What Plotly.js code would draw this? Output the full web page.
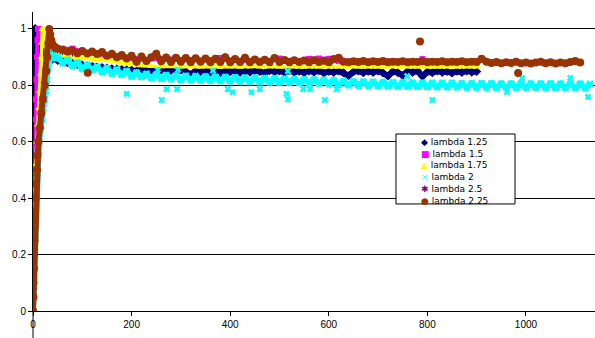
<!DOCTYPE html>
<html>
<head>
<meta charset="utf-8">
<script src="https://cdn.plot.ly/plotly-3.0.1.min.js"></script>
<style>html,body{margin:0;padding:0;background:#fff;}#chart{width:595px;height:338px;}</style>
</head>
<body>
<div id="chart"></div>
<script>
// ---- series names ----
const seriesNames = ["lambda 1.25", "lambda 1.5", "lambda 1.75", "lambda 2", "lambda 2.5", "lambda 2.25"];

// ---- lambda 1.25 ----
const x125 = [0,0,1,1,1,2,2,2,3,3,4,5,7,10,14,18,
  20,30,40,50,60,70,80,90,100,110,120,130,140,150,160,170,180,190,200,
  210,220,230,240,250,260,270,280,290,300,310,320,330,340,350,360,370,380,390,400,
  410,420,430,440,450,460,470,480,490,500,510,520,530,540,550,560,570,580,590,600,
  610,620,630,640,650,660,670,680,690,700,710,720,730,740,750,760,770,780,790,800,
  810,820,830,840,850,860,870,880,890,900];
const y125 = [0,0.1,0.2,0.3,0.4,0.5,0.6,0.7,0.8,0.9,1.0,1.0,0.98,0.95,0.93,0.92,
  0.915,0.9,0.893,0.888,0.884,0.88,0.877,0.874,0.872,0.869,0.867,0.865,0.863,0.861,0.859,0.858,0.856,0.855,0.854,
  0.851,0.856,0.852,0.854,0.849,0.855,0.85,0.853,0.848,0.854,0.849,0.837,0.852,0.848,0.854,0.847,0.851,0.845,0.853,0.848,
  0.852,0.846,0.851,0.847,0.853,0.849,0.844,0.852,0.848,0.851,0.846,0.852,0.847,0.85,0.845,0.851,0.847,0.852,0.844,0.849,
  0.846,0.851,0.845,0.834,0.848,0.851,0.845,0.85,0.846,0.851,0.844,0.833,0.849,0.845,0.835,0.85,0.846,0.851,0.832,0.848,
  0.845,0.851,0.846,0.849,0.844,0.85,0.846,0.851,0.847,0.849];

// ---- lambda 1.5 ----
const x15 = [0,1,2,3,4,5,6,7,8,9,10,12,14,17,
  20,40,60,80,100,120,140,160,180,200,220,240,260,280,300,320,340,360,380,400,
  420,440,460,480,500,520,540,560,580,600,620,640,660,680,700,720,740,760,780,790,
  800,820,840,860,880,900];
const y15 = [0,0.15,0.3,0.45,0.58,0.68,0.75,0.82,0.9,0.96,1.0,1.0,0.98,0.96,
  0.95,0.935,0.93,0.93,0.92,0.915,0.91,0.905,0.9,0.898,0.895,0.895,0.893,0.892,0.89,0.89,0.888,0.89,0.897,0.888,
  0.887,0.886,0.887,0.886,0.895,0.887,0.886,0.894,0.895,0.894,0.886,0.885,0.884,0.885,0.884,0.885,0.883,0.884,0.885,0.893,
  0.884,0.884,0.883,0.884,0.883,0.884];

// ---- lambda 1.75 ----
const x175 = [0,1,2,3,4,5,6,8,10,12,14,16,17,18,19,21,23,26,
  30,40,60,80,100,120,140,160,180,200,220,240,260,280,300,320,340,360,380,400,
  420,440,460,480,500,520,540,560,580,600,620,640,660,680,700,720,740,760,780,800,
  820,840,860,880,900];
const y175 = [0,0.1,0.2,0.3,0.38,0.45,0.52,0.6,0.66,0.72,0.78,0.84,0.9,0.95,1.0,1.0,0.97,0.94,
  0.93,0.915,0.905,0.9,0.897,0.894,0.891,0.887,0.88,0.874,0.87,0.868,0.867,0.868,0.866,0.867,0.866,0.867,0.866,0.867,
  0.866,0.867,0.866,0.867,0.866,0.867,0.866,0.867,0.866,0.867,0.866,0.867,0.866,0.867,0.866,0.867,0.866,0.867,0.866,0.867,
  0.866,0.867,0.866,0.867,0.866];

// ---- lambda 2 ----
const x2 = [0,1,2,3,4,5,6,8,10,12,15,18,21,24,26,28,30,32,34,36,38,40,45,
  50,60,70,80,90,100,110,120,130,140,150,160,170,180,190,200,
  210,220,230,240,250,260,270,280,290,300,310,320,330,340,350,360,370,380,390,400,
  410,420,430,440,450,460,470,480,490,500,510,520,530,540,550,560,570,580,590,600,
  610,620,630,640,650,660,670,680,690,700,710,720,730,740,750,760,770,780,790,800,
  810,820,830,840,850,860,870,880,890,900,910,920,930,940,950,960,970,980,990,1000,
  1010,1020,1030,1040,1050,1060,1070,1080,1090,1100,1110,1120,1130];
const y2 = [0,0.05,0.12,0.2,0.28,0.36,0.44,0.5,0.56,0.6,0.64,0.68,0.72,0.75,0.78,0.82,0.86,0.89,0.915,0.912,0.906,0.902,0.897,
  0.9,0.88,0.89,0.87,0.88,0.86,0.872,0.855,0.865,0.848,0.86,0.842,0.855,0.838,0.85,0.832,
  0.845,0.83,0.84,0.826,0.838,0.824,0.836,0.822,0.834,0.82,0.833,0.819,0.832,0.818,0.831,0.817,0.83,0.816,0.829,0.815,
  0.828,0.814,0.827,0.813,0.826,0.812,0.825,0.811,0.824,0.81,0.823,0.81,0.822,0.809,0.821,0.808,0.82,0.807,0.819,0.806,
  0.817,0.803,0.815,0.802,0.814,0.8,0.813,0.799,0.812,0.798,0.811,0.797,0.81,0.796,0.81,0.796,0.809,0.795,0.809,0.795,
  0.808,0.794,0.808,0.794,0.808,0.794,0.807,0.793,0.807,0.793,0.807,0.793,0.807,0.792,0.806,0.792,0.806,0.792,0.806,0.792,
  0.806,0.792,0.806,0.791,0.806,0.791,0.805,0.791,0.805,0.791,0.805,0.791,0.805];
// scattered points of lambda 2
const x2s = [169,190,253,261,271,292,294,365,395,405,443,460,514,517,517,548,562,592,616,759,810,961,992,1090,1126];
const y2s = [0.855,0.77,0.855,0.748,0.787,0.787,0.855,0.852,0.787,0.776,0.776,0.787,0.77,0.75,0.85,0.787,0.787,0.748,0.787,0.833,0.748,0.776,0.826,0.826,0.759];

// ---- lambda 2.5 ----
const x25 = [0,1,2,3,5,6,8,10,13,16,20,23,26,29,31,34,38,42,50,60,70,80];
const y25 = [0,0.08,0.15,0.22,0.33,0.4,0.48,0.56,0.64,0.7,0.76,0.81,0.86,0.9,0.95,0.98,0.95,0.93,0.925,0.92,0.918,0.915];

// ---- lambda 2.25 ----
const x225 = [0,1,1,2,2,3,3,4,5,6,8,9,11,14,17,20,24,27,29,31,33,35,37,40,45,
  50,60,70,80,90,100,110,120,130,140,150,160,170,180,190,200,
  210,220,230,240,250,260,270,280,290,300,310,320,330,340,350,360,370,380,390,400,
  410,420,430,440,450,460,470,480,490,500,510,520,530,540,550,560,570,580,590,600,
  610,620,630,640,650,660,670,680,690,700,710,720,730,740,750,760,770,780,790,800,
  810,820,830,840,850,860,870,880,890,900,910,920,930,940,950,960,970,980,990,1000,
  1010,1020,1030,1040,1050,1060,1070,1080,1090,1100,1110];
const y225 = [0,0.05,0.1,0.15,0.2,0.25,0.3,0.35,0.4,0.45,0.5,0.55,0.6,0.65,0.7,0.75,0.8,0.85,0.9,0.95,1.0,0.98,0.96,0.945,0.935,
  0.93,0.926,0.92,0.924,0.914,0.922,0.913,0.92,0.911,0.918,0.905,0.912,0.9,0.908,0.895,0.905,
  0.884,0.902,0.886,0.9,0.912,0.885,0.899,0.883,0.898,0.884,0.897,0.882,0.896,0.884,0.895,0.882,0.894,0.883,0.9,0.882,
  0.893,0.883,0.898,0.882,0.892,0.883,0.891,0.882,0.897,0.883,0.89,0.882,0.889,0.883,0.888,0.882,0.889,0.883,0.887,0.882,
  0.893,0.898,0.884,0.882,0.885,0.883,0.886,0.882,0.885,0.883,0.886,0.882,0.884,0.883,0.885,0.882,0.884,0.883,0.885,0.882,
  0.884,0.883,0.885,0.882,0.884,0.883,0.885,0.882,0.884,0.883,0.894,0.884,0.879,0.883,0.878,0.882,0.879,0.884,0.878,0.881,
  0.877,0.881,0.884,0.878,0.882,0.877,0.881,0.878,0.883,0.886,0.881];
// scattered points of lambda 2.25
const x225s = [111,785,984];
const y225s = [0.845,0.955,0.844];

// ---- axis ticks ----
const xTicks = [0,200,400,600,800,1000];
const yTicks = [0,0.2,0.4,0.6,0.8,1];

const colors = ["#000080","#FF00FF","#FFFF00","#00FFFF","#800080","#993300"];
const symbols = ["diamond","square","triangle-up","x","asterisk-open","circle"];
const sizes = [7,6,7,7,6,8];
const bandWidths = [6,4,3.5,6,1,6];
const legendGlyphs = ["◆","■","▲","×","✱","●"];

const xs = [x125,x15,x175,x2,x25,x225];
const ys = [y125,y15,y175,y2,y25,y225];

function markerFor(i){
  return symbols[i]==='asterisk-open'
    ? {symbol:symbols[i], size:sizes[i], color:colors[i], line:{color:colors[i], width:1}}
    : {symbol:symbols[i], size:sizes[i], color:colors[i], line:{width:0}};
}

const traces = [];
seriesNames.forEach((n,i)=>{
  traces.push({type:'scatter', mode:'lines+markers', name:n, x:xs[i], y:ys[i],
    line:{color:colors[i], width:bandWidths[i]}, marker:markerFor(i), hoverinfo:'x+y+name'});
  if(i===3) traces.push({type:'scatter', mode:'markers', name:n, x:x2s, y:y2s,
    marker:{symbol:'x', size:6, color:colors[i], line:{width:0}}, showlegend:false});
  if(i===5) traces.push({type:'scatter', mode:'markers', name:n, x:x225s, y:y225s, marker:markerFor(i), showlegend:false});
});

// compact Excel-like legend, one text block
const legendText = seriesNames.map((n,i)=>
  '<span style="color:'+colors[i]+'">'+legendGlyphs[i]+'</span> '+n).join('<br>');

const layout = {
  width:595, height:338,
  margin:{l:33, r:0, t:12, b:27, pad:0},
  paper_bgcolor:'#fff', plot_bgcolor:'#fff',
  showlegend:false,
  font:{family:'Arial, "Liberation Sans", sans-serif', size:10, color:'#000'},
  xaxis:{range:[0,1140], tickvals:xTicks, showgrid:false, zeroline:false, showline:true,
    linecolor:'#000', linewidth:1, ticks:'outside', ticklen:4, tickcolor:'#000', tickfont:{size:10}},
  yaxis:{range:[0,1.06], tickvals:yTicks, ticktext:yTicks.map(String), showgrid:true, gridcolor:'#000', gridwidth:1,
    zeroline:false, showline:true, linecolor:'#000', linewidth:1, ticks:'outside', ticklen:4, tickcolor:'#000', tickfont:{size:10}},
  shapes:[
    {type:'line', xref:'paper', yref:'paper', x0:0, x1:0, y0:-0.1, y1:0, line:{color:'#000', width:1}},
    {type:'rect', xref:'paper', yref:'paper', x0:0.6459, x1:0.8577, y0:0.358, y1:0.592, layer:'above',
      fillcolor:'#fff', line:{color:'#000', width:1}}
  ],
  annotations:[{xref:'paper', yref:'paper', x:0.6868, y:0.468, xanchor:'left', yanchor:'middle', align:'left',
    showarrow:false, text:legendText, font:{family:'"DejaVu Sans", sans-serif', size:9, color:'#000'}}]
};

Plotly.newPlot('chart', traces, layout, {displayModeBar:false, staticPlot:true});
</script>
</body>
</html>
